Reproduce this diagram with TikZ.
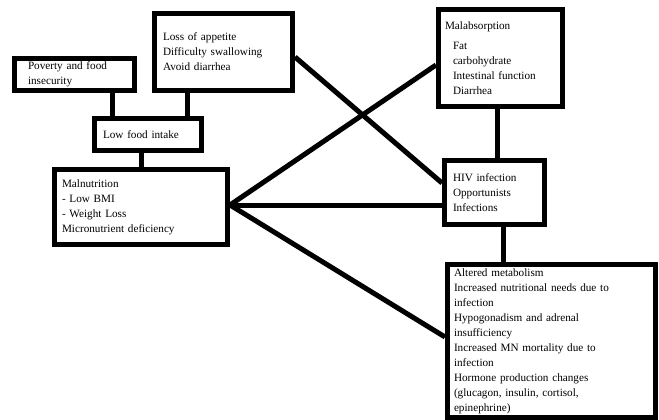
\documentclass[tikz,border=0pt]{standalone}
\usepackage{fontspec}
\setmainfont{Liberation Serif}
\begin{document}
\begin{tikzpicture}[x=1pt,y=-1pt,
  box/.style={draw=black,line width=5pt,fill=white,rectangle,align=left,
    font=\fontsize{11.2}{15}\selectfont,inner ysep=0pt},
  link/.style={draw=black,line width=5pt}]
\useasboundingbox (0,0) rectangle (659,420);
% boxes
\node[box,minimum width=120pt,minimum height=32pt,inner xsep=13.5pt,text width=93pt] (pov) at (74.5,74.5) {Poverty and food\\insecurity};
\node[box,minimum width=138pt,minimum height=77pt,inner xsep=8.5pt,text width=121pt] (loss) at (223.5,52) {Loss of appetite\\Difficulty swallowing\\Avoid diarrhea};
\node[box,minimum width=107pt,minimum height=32pt,inner xsep=8.5pt,text width=90pt] (low) at (148,134.5) {Low food intake};
\node[box,minimum width=173pt,minimum height=75pt,inner xsep=7.5pt,text width=158pt] (maln) at (141,207) {Malnutrition\\- Low BMI\\- Weight Loss\\Micronutrient deficiency};
\node[box,minimum width=124pt,minimum height=97pt,inner xsep=6.5pt,text width=111pt] (malab) at (500.5,58) {Malabsorption\\[5pt]\hspace*{8pt}Fat\\\hspace*{8pt}carbohydrate\\\hspace*{8pt}Intestinal function\\\hspace*{8pt}Diarrhea};
\node[box,minimum width=100pt,minimum height=64pt,inner xsep=8.5pt,text width=83pt] (hiv) at (494.5,192.5) {HIV infection\\Opportunists\\Infections};
\node[box,minimum width=208pt,minimum height=153pt,inner xsep=6.5pt,text width=195pt] (alt) at (551.5,341) {Altered metabolism\\Increased nutritional needs due to\\infection\\Hypogonadism and adrenal\\insufficiency\\Increased MN mortality due to\\infection\\Hormone production changes\\(glucagon, insulin, cortisol,\\epinephrine)};
% connectors
\draw[link] ([xshift=37.5pt]pov.south) -- ([xshift=37.5pt]pov.south |- low.north);
\draw[link] ([xshift=-36.5pt]loss.south) -- ([xshift=-36.5pt]loss.south |- low.north);
\draw[link] ([xshift=-7pt]low.south) -- ([xshift=-7pt]low.south |- maln.north);
\draw[link] ([yshift=2pt]maln.east) -- ([yshift=-7pt]malab.west);
\draw[link] ([yshift=2pt]maln.east) -- ([yshift=2pt]maln.east -| hiv.west);
\draw[link] ([yshift=2pt]maln.east) -- ([yshift=4pt]alt.west);
\draw[link] ([yshift=-5pt]loss.east) -- ([yshift=9.5pt]hiv.west);
\draw[link] ([xshift=-3.5pt]malab.south) -- ([xshift=-3.5pt]malab.south |- hiv.north);
\draw[link] ([xshift=8.5pt]hiv.south) -- ([xshift=8.5pt]hiv.south |- alt.north);
\end{tikzpicture}
\end{document}
